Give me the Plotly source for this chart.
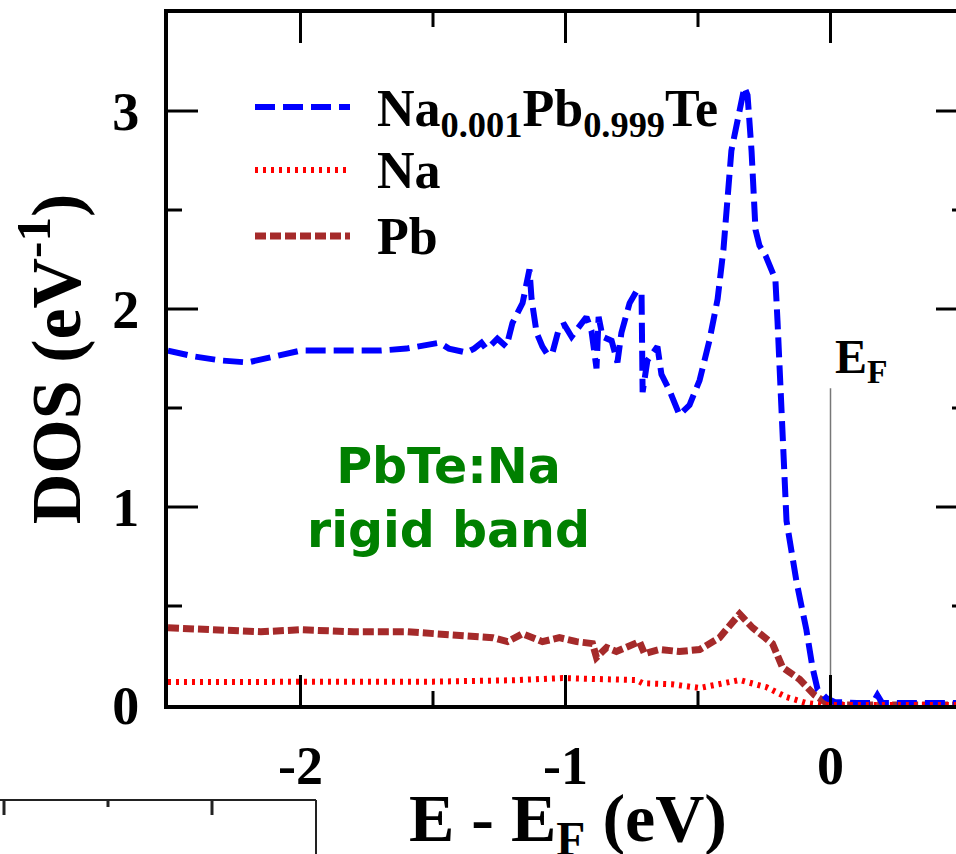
import plotly.graph_objects as go

# ---------------- data ----------------
E_tot = [-2.50, -2.40, -2.30, -2.20, -2.10, -2.00, -1.90, -1.80, -1.70, -1.60,
         -1.55, -1.475, -1.44, -1.40, -1.374, -1.345, -1.317, -1.30, -1.287, -1.257,
         -1.223, -1.200, -1.162, -1.136, -1.128, -1.109, -1.087, -1.068, -1.049, -1.023,
         -1.004, -0.977, -0.947, -0.921, -0.902, -0.883, -0.875, -0.860, -0.826, -0.804,
         -0.789, -0.758, -0.732, -0.713, -0.709, -0.691, -0.653, -0.638, -0.608, -0.570,
         -0.532, -0.494, -0.457, -0.426, -0.404, -0.389, -0.374, -0.351, -0.325, -0.313,
         -0.298, -0.283, -0.268, -0.245, -0.226, -0.208, -0.200, -0.185, -0.166, -0.128,
         -0.091, -0.068, -0.049, -0.015, 0.015, 0.10, 0.16, 0.177, 0.195, 0.25,
         0.35, 0.50]
DOS_tot = [1.79, 1.76, 1.74, 1.73, 1.76, 1.79, 1.79, 1.79, 1.79, 1.80,
           1.81, 1.83, 1.80, 1.79, 1.78, 1.80, 1.83, 1.80, 1.81, 1.85,
           1.81, 1.93, 2.03, 2.20, 2.05, 1.88, 1.81, 1.77, 1.78, 1.91,
           1.92, 1.86, 1.92, 1.96, 1.89, 1.70, 1.96, 1.86, 1.84, 1.73,
           1.88, 2.03, 2.09, 2.08, 1.58, 1.74, 1.81, 1.67, 1.59, 1.465,
           1.515, 1.64, 1.84, 2.05, 2.30, 2.55, 2.80, 2.95, 3.12, 3.08,
           2.80, 2.40, 2.32, 2.27, 2.20, 2.15, 1.94, 1.54, 0.93, 0.62,
           0.38, 0.19, 0.08, 0.035, 0.015, 0.01, 0.01, 0.05, 0.01, 0.01,
           0.01, 0.01]

E_pb = [-2.50, -2.30, -2.15, -2.00, -1.80, -1.60, -1.49, -1.40, -1.275, -1.219,
        -1.162, -1.087, -1.023, -0.958, -0.898, -0.883, -0.845, -0.808, -0.721, -0.702,
        -0.645, -0.570, -0.494, -0.419, -0.343, -0.294, -0.219, -0.181, -0.117, -0.060,
        -0.015, 0.05, 0.20, 0.50]
DOS_pb = [0.39, 0.38, 0.37, 0.38, 0.37, 0.37, 0.36, 0.345, 0.34, 0.32,
          0.36, 0.32, 0.34, 0.32, 0.31, 0.24, 0.29, 0.27, 0.32, 0.26,
          0.28, 0.27, 0.28, 0.34, 0.46, 0.39, 0.31, 0.19, 0.13, 0.05,
          0.01, 0.0, 0.0, 0.0]

E_na = [-2.50, -2.00, -1.50, -1.20, -1.011, -0.85, -0.732, -0.709, -0.60, -0.494,
        -0.343, -0.242, -0.166, -0.091, -0.03, 0.10, 0.50]
DOS_na = [0.116, 0.116, 0.118, 0.125, 0.136, 0.13, 0.126, 0.11, 0.105, 0.086,
          0.126, 0.09, 0.04, 0.01, 0.0, 0.0, 0.0]

series_names = ["Na<sub>0.001</sub>Pb<sub>0.999</sub>Te", "Na", "Pb"]
x_ticks = [-2, -1, 0]
x_minor = [-1.5, -0.5]
y_ticks = [0, 1, 2, 3]
y_minor = [0.5, 1.5, 2.5]
EF = 0.0
EF_line_top = 1.6

# ---------------- layout geometry ----------------
W, H = 956, 854
L, R, T, B = 168, 0, 13, 149
PW, PH = W - L - R, H - T - B
X_RANGE = [-2.5, 0.4736]
Y_RANGE = [0, 3.495]
MAJOR_LEN, MINOR_LEN = 30, 14

def px(x):
    return (x - L) / PW

def py(y):
    return (H - B - y) / PH

SERIF = "Liberation Serif"
BLUE, RED, BROWN = "#0000ff", "#ff0000", "#a52a2a"
DASH_BLUE, DASH_RED, DASH_BROWN = "20px,8px", "3px,5px", "11px,4px"

fig = go.Figure()
fig.add_trace(go.Scatter(x=E_pb, y=DOS_pb, mode="lines", name="Pb",
                         line=dict(color=BROWN, width=7, dash=DASH_BROWN), showlegend=False))
fig.add_trace(go.Scatter(x=E_tot, y=DOS_tot, mode="lines", name="Na0.001Pb0.999Te",
                         line=dict(color=BLUE, width=6, dash=DASH_BLUE), showlegend=False))
fig.add_trace(go.Scatter(x=E_na, y=DOS_na, mode="lines", name="Na",
                         line=dict(color=RED, width=6, dash=DASH_RED), showlegend=False))

# E_F reference line
fig.add_shape(type="line", xref="x", yref="y", x0=EF, x1=EF, y0=0, y1=EF_line_top,
              line=dict(color="#777777", width=1.5))

# inward tick marks on all four sides (positions taken from the tick lists)
tick_line = dict(color="black", width=3)
for vals, ln in [(x_ticks, MAJOR_LEN), (x_minor, MINOR_LEN)]:
    for v in vals:
        fig.add_shape(type="line", xref="x", yref="paper", x0=v, x1=v, y0=0, y1=ln / PH, line=tick_line)
        fig.add_shape(type="line", xref="x", yref="paper", x0=v, x1=v, y0=1, y1=1 - ln / PH, line=tick_line)
for vals, ln in [(y_ticks[1:], MAJOR_LEN), (y_minor, MINOR_LEN)]:
    for v in vals:
        fig.add_shape(type="line", xref="paper", yref="y", x0=0, x1=ln / PW, y0=v, y1=v, line=tick_line)
        # right axis sits just beyond the visible edge (x = 0.5)
        fig.add_shape(type="line", xref="paper", yref="y", x0=1, x1=(PW + 10 - ln) / PW,
                      y0=v, y1=v, line=tick_line)

# manual legend
legend_rows = [(107, BLUE, 6, DASH_BLUE, series_names[0], 112),
               (170, RED, 6, DASH_RED, series_names[1], 170),
               (236, BROWN, 7, DASH_BROWN, series_names[2], 236)]
for ly, col, w, dsh, txt, ty in legend_rows:
    fig.add_shape(type="line", xref="paper", yref="paper",
                  x0=px(255), x1=px(350), y0=py(ly), y1=py(ly),
                  line=dict(color=col, width=w, dash=dsh))
    fig.add_annotation(xref="paper", yref="paper", x=px(375), y=py(ty),
                       xanchor="left", yanchor="middle", text=txt, showarrow=False,
                       font=dict(family=SERIF, size=52, color="black", weight="bold"))

fig.add_annotation(xref="paper", yref="paper", x=px(448), y=py(498), yanchor="middle",
                   text="PbTe:Na<br>rigid band", showarrow=False, align="center",
                   font=dict(family="DejaVu Sans", size=49, color="#008000", weight="bold"))
fig.add_annotation(xref="paper", yref="paper", x=px(833), y=py(360),
                   xanchor="left", yanchor="middle", text="E<sub>F</sub>", showarrow=False,
                   font=dict(family=SERIF, size=48, color="black", weight="bold"))

# x-axis title (annotation so that it may run off the bottom edge like the reference)
fig.add_annotation(xref="paper", yref="paper", x=px(568), y=py(823),
                   xanchor="center", yanchor="middle", text="E - E<sub>F</sub> (eV)",
                   showarrow=False,
                   font=dict(family=SERIF, size=68, color="black", weight="bold"))

# fragment of the neighbouring panel at bottom-left
frag = dict(color="#222222", width=2)
fig.add_shape(type="line", xref="paper", yref="paper", x0=px(0), x1=px(316), y0=py(800), y1=py(800), line=frag)
fig.add_shape(type="line", xref="paper", yref="paper", x0=px(316), x1=px(316), y0=py(800), y1=py(854), line=frag)
for tx, tl in [(4, 15), (108, 7), (212, 15)]:
    fig.add_shape(type="line", xref="paper", yref="paper", x0=px(tx), x1=px(tx),
                  y0=py(800), y1=py(800 + tl), line=dict(color="#222222", width=3))

tickfont = dict(family=SERIF, size=54, color="black", weight="bold")
fig.update_layout(
    template="none",
    width=W, height=H,
    margin=dict(l=L, r=R, t=T, b=B, pad=0),
    paper_bgcolor="white", plot_bgcolor="white",
    showlegend=False,
    xaxis=dict(range=X_RANGE, tickmode="array", tickvals=x_ticks,
               ticktext=[str(v) for v in x_ticks], automargin=False, ticks="",
               showline=True, linewidth=4, linecolor="black", mirror=True,
               showgrid=False, zeroline=False, tickfont=tickfont, ticklabelstandoff=10),
    yaxis=dict(range=Y_RANGE, tickmode="array", tickvals=y_ticks,
               ticktext=[str(v) for v in y_ticks], automargin=False, ticks="",
               showline=True, linewidth=4, linecolor="black", mirror=False,
               showgrid=False, zeroline=False, tickfont=tickfont, ticklabelstandoff=14,
               title=dict(text="DOS (eV<sup>-1</sup>)", standoff=10,
                          font=dict(family=SERIF, size=70, color="black", weight="bold"))),
)

fig.write_html("out.html")
